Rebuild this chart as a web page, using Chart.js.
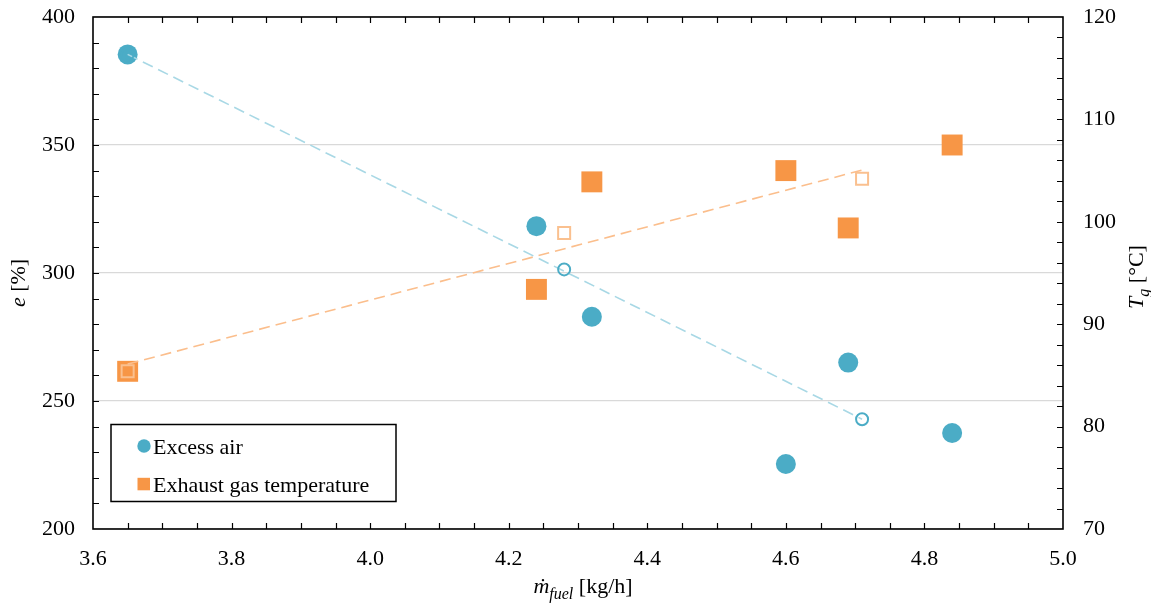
<!DOCTYPE html>
<html>
<head>
<meta charset="utf-8">
<script src="https://cdn.jsdelivr.net/npm/chart.js@4"></script>
<style>
  html, body { margin: 0; padding: 0; background: #fff; }
</style>
</head>
<body>
<canvas id="fuelChart" width="1151" height="603"></canvas>
<script>
// measured points
const fuelRate = [3.65, 4.24, 4.32, 4.60, 4.69, 4.84];
const excessAir = [385.4, 318.3, 282.9, 225.4, 265.0, 237.5];
const gasTemp = [85.4, 93.4, 103.9, 105.0, 99.4, 107.5];

// model points (hollow markers)
const fitFuelRate = [3.65, 4.28, 4.71];
const fitExcessAir = [385.4, 301.4, 242.9];
const fitGasTemp = [85.4, 98.9, 104.2];

// dashed trend lines
const trendFuelRate = [3.65, 4.71];
const trendExcessAir = [385.4, 242.9];
const trendGasTemp = [86.1, 105.05];

// axis ticks
const xTicks = [3.6, 3.8, 4.0, 4.2, 4.4, 4.6, 4.8, 5.0];
const leftTicks = [200, 250, 300, 350, 400];
const rightTicks = [70, 80, 90, 100, 110, 120];

const FONT = '"Liberation Serif", "Times New Roman", serif';
const TXT = 22;
const BLUE = '#4BACC6';
const ORANGE = '#F79646';

function pairs(xs, ys) {
  return xs.map((x, i) => ({ x: x, y: ys[i] }));
}

function setTicks(list) {
  return function (scale) {
    scale.ticks = list.map(v => ({ value: v }));
  };
}

// fixed axis size, no label overflow padding
function fixSize(prop, size) {
  return function (s) {
    s[prop] = size;
    s.paddingTop = 0;
    s.paddingBottom = 0;
    s.paddingLeft = 0;
    s.paddingRight = 0;
  };
}

// text made of pieces: { t, it, sub }
function drawRich(ctx, parts, size) {
  const subSize = Math.round(size * 0.72);
  const fontOf = p => (p.it ? 'italic ' : '') + (p.sub ? subSize : size) + 'px ' + FONT;
  let total = 0;
  parts.forEach(p => { ctx.font = fontOf(p); total += ctx.measureText(p.t).width; });
  let cx = -total / 2;
  parts.forEach(p => {
    ctx.font = fontOf(p);
    ctx.fillText(p.t, cx, p.sub ? size * 0.28 : 0);
    cx += ctx.measureText(p.t).width;
  });
}

const framePlugin = {
  id: 'framePlugin',
  afterDraw(chart) {
    const ctx = chart.ctx;
    const a = chart.chartArea;
    const x = chart.scales.x, yl = chart.scales.yLeft, yr = chart.scales.yRight;
    const len = 6;
    ctx.save();

    // inner tick marks
    ctx.strokeStyle = '#000';
    ctx.lineWidth = 1.2;
    ctx.beginPath();
    for (let i = 1; i < 28; i++) {
      const px = Math.round(x.getPixelForValue(x.min + i * 0.05)) + 0.5;
      ctx.moveTo(px, a.bottom); ctx.lineTo(px, a.bottom - len);
      ctx.moveTo(px, a.top); ctx.lineTo(px, a.top + len);
    }
    for (let v = yl.min + 10; v < yl.max; v += 10) {
      const py = Math.round(yl.getPixelForValue(v)) + 0.5;
      ctx.moveTo(a.left, py); ctx.lineTo(a.left + len, py);
    }
    for (let v = yr.min + 2; v < yr.max; v += 2) {
      const py = Math.round(yr.getPixelForValue(v)) + 0.5;
      ctx.moveTo(a.right, py); ctx.lineTo(a.right - len, py);
    }
    ctx.stroke();

    // frame
    ctx.lineWidth = 1.6;
    ctx.strokeRect(a.left, a.top, a.right - a.left, a.bottom - a.top);

    // axis titles
    ctx.fillStyle = '#000';
    ctx.textBaseline = 'alphabetic';
    ctx.save();
    ctx.translate(25, (a.top + a.bottom) / 2 + 10);
    ctx.rotate(-Math.PI / 2);
    drawRich(ctx, [{ t: 'e', it: true }, { t: ' [%]' }], TXT);
    ctx.restore();

    ctx.save();
    ctx.translate(1143, (a.top + a.bottom) / 2 + 4);
    ctx.rotate(-Math.PI / 2);
    drawRich(ctx, [{ t: 'T', it: true }, { t: 'g', it: true, sub: true }, { t: ' [°C]' }], TXT);
    ctx.restore();

    ctx.save();
    ctx.translate((a.left + a.right) / 2 + 5, 593);
    drawRich(ctx, [{ t: 'ṁ', it: true }, { t: 'fuel', it: true, sub: true }, { t: ' [kg/h]' }], TXT);
    ctx.restore();

    // legend box
    const bx = a.left + 18, by = a.top + 407.5, bw = 285, bh = 77;
    ctx.fillStyle = '#fff';
    ctx.fillRect(bx, by, bw, bh);
    ctx.lineWidth = 1.5;
    ctx.strokeStyle = '#000';
    ctx.strokeRect(bx, by, bw, bh);

    const items = chart.data.datasets.filter(d => d.inLegend);
    items.forEach((d, i) => {
      const cy = by + 21.5 + i * 38;
      ctx.fillStyle = d.backgroundColor;
      if (d.pointStyle === 'circle') {
        ctx.beginPath();
        ctx.arc(bx + 33, cy, 6.7, 0, Math.PI * 2);
        ctx.fill();
      } else {
        ctx.fillRect(bx + 26.5, cy - 6.2, 12.5, 12.5);
      }
      ctx.fillStyle = '#000';
      ctx.font = TXT + 'px ' + FONT;
      ctx.fillText(d.label, bx + 42, cy + 7.5);
    });

    ctx.restore();
  }
};

new Chart(document.getElementById('fuelChart').getContext('2d'), {
  type: 'scatter',
  data: {
    datasets: [
      {
        label: 'Model exhaust gas temperature',
        data: pairs(fitFuelRate, fitGasTemp),
        yAxisID: 'yRight',
        pointStyle: 'rect',
        pointRadius: 8.5,
        backgroundColor: 'rgba(255,255,255,0)',
        borderColor: '#FAC08F',
        borderWidth: 2
      },
      {
        label: 'Model excess air',
        data: pairs(fitFuelRate, fitExcessAir),
        yAxisID: 'yLeft',
        pointStyle: 'circle',
        pointRadius: 6,
        backgroundColor: 'rgba(255,255,255,0)',
        borderColor: BLUE,
        borderWidth: 2
      },
      {
        label: 'Excess air trend',
        data: pairs(trendFuelRate, trendExcessAir),
        yAxisID: 'yLeft',
        showLine: true,
        pointRadius: 0,
        borderColor: '#A8D8E5',
        borderWidth: 1.6,
        borderDash: [11, 6]
      },
      {
        label: 'Gas temperature trend',
        data: pairs(trendFuelRate, trendGasTemp),
        yAxisID: 'yRight',
        showLine: true,
        pointRadius: 0,
        borderColor: '#FBBE8C',
        borderWidth: 1.6,
        borderDash: [11, 6]
      },
      {
        label: 'Excess air',
        inLegend: true,
        data: pairs(fuelRate, excessAir),
        yAxisID: 'yLeft',
        pointStyle: 'circle',
        pointRadius: 10,
        backgroundColor: BLUE,
        borderWidth: 0
      },
      {
        label: 'Exhaust gas temperature',
        inLegend: true,
        data: pairs(fuelRate, gasTemp),
        yAxisID: 'yRight',
        pointStyle: 'rect',
        pointRadius: 14.8,
        backgroundColor: ORANGE,
        borderWidth: 0
      }
    ]
  },
  options: {
    responsive: false,
    animation: false,
    events: [],
    layout: { padding: { top: 17, left: 0, right: 0, bottom: 0 } },
    plugins: {
      legend: { display: false },
      tooltip: { enabled: false }
    },
    scales: {
      x: {
        type: 'linear',
        min: 3.6,
        max: 5.0,
        afterBuildTicks: setTicks(xTicks),
        afterFit: fixSize('height', 74),
        grid: { display: false, drawTicks: false },
        border: { display: false },
        ticks: {
          color: '#000',
          padding: 17,
          font: { family: FONT, size: TXT },
          callback: v => v.toFixed(1)
        }
      },
      yLeft: {
        type: 'linear',
        position: 'left',
        min: 200,
        max: 400,
        afterBuildTicks: setTicks(leftTicks),
        afterFit: fixSize('width', 93),
        grid: { color: '#D9D9D9', lineWidth: 1.2, drawTicks: false },
        border: { display: false },
        ticks: {
          color: '#000',
          padding: 18,
          font: { family: FONT, size: TXT }
        }
      },
      yRight: {
        type: 'linear',
        position: 'right',
        min: 70,
        max: 120,
        afterBuildTicks: setTicks(rightTicks),
        afterFit: fixSize('width', 88),
        grid: { display: false, drawTicks: false },
        border: { display: false },
        ticks: {
          color: '#000',
          padding: 20,
          font: { family: FONT, size: TXT }
        }
      }
    }
  },
  plugins: [framePlugin]
});
</script>
</body>
</html>
